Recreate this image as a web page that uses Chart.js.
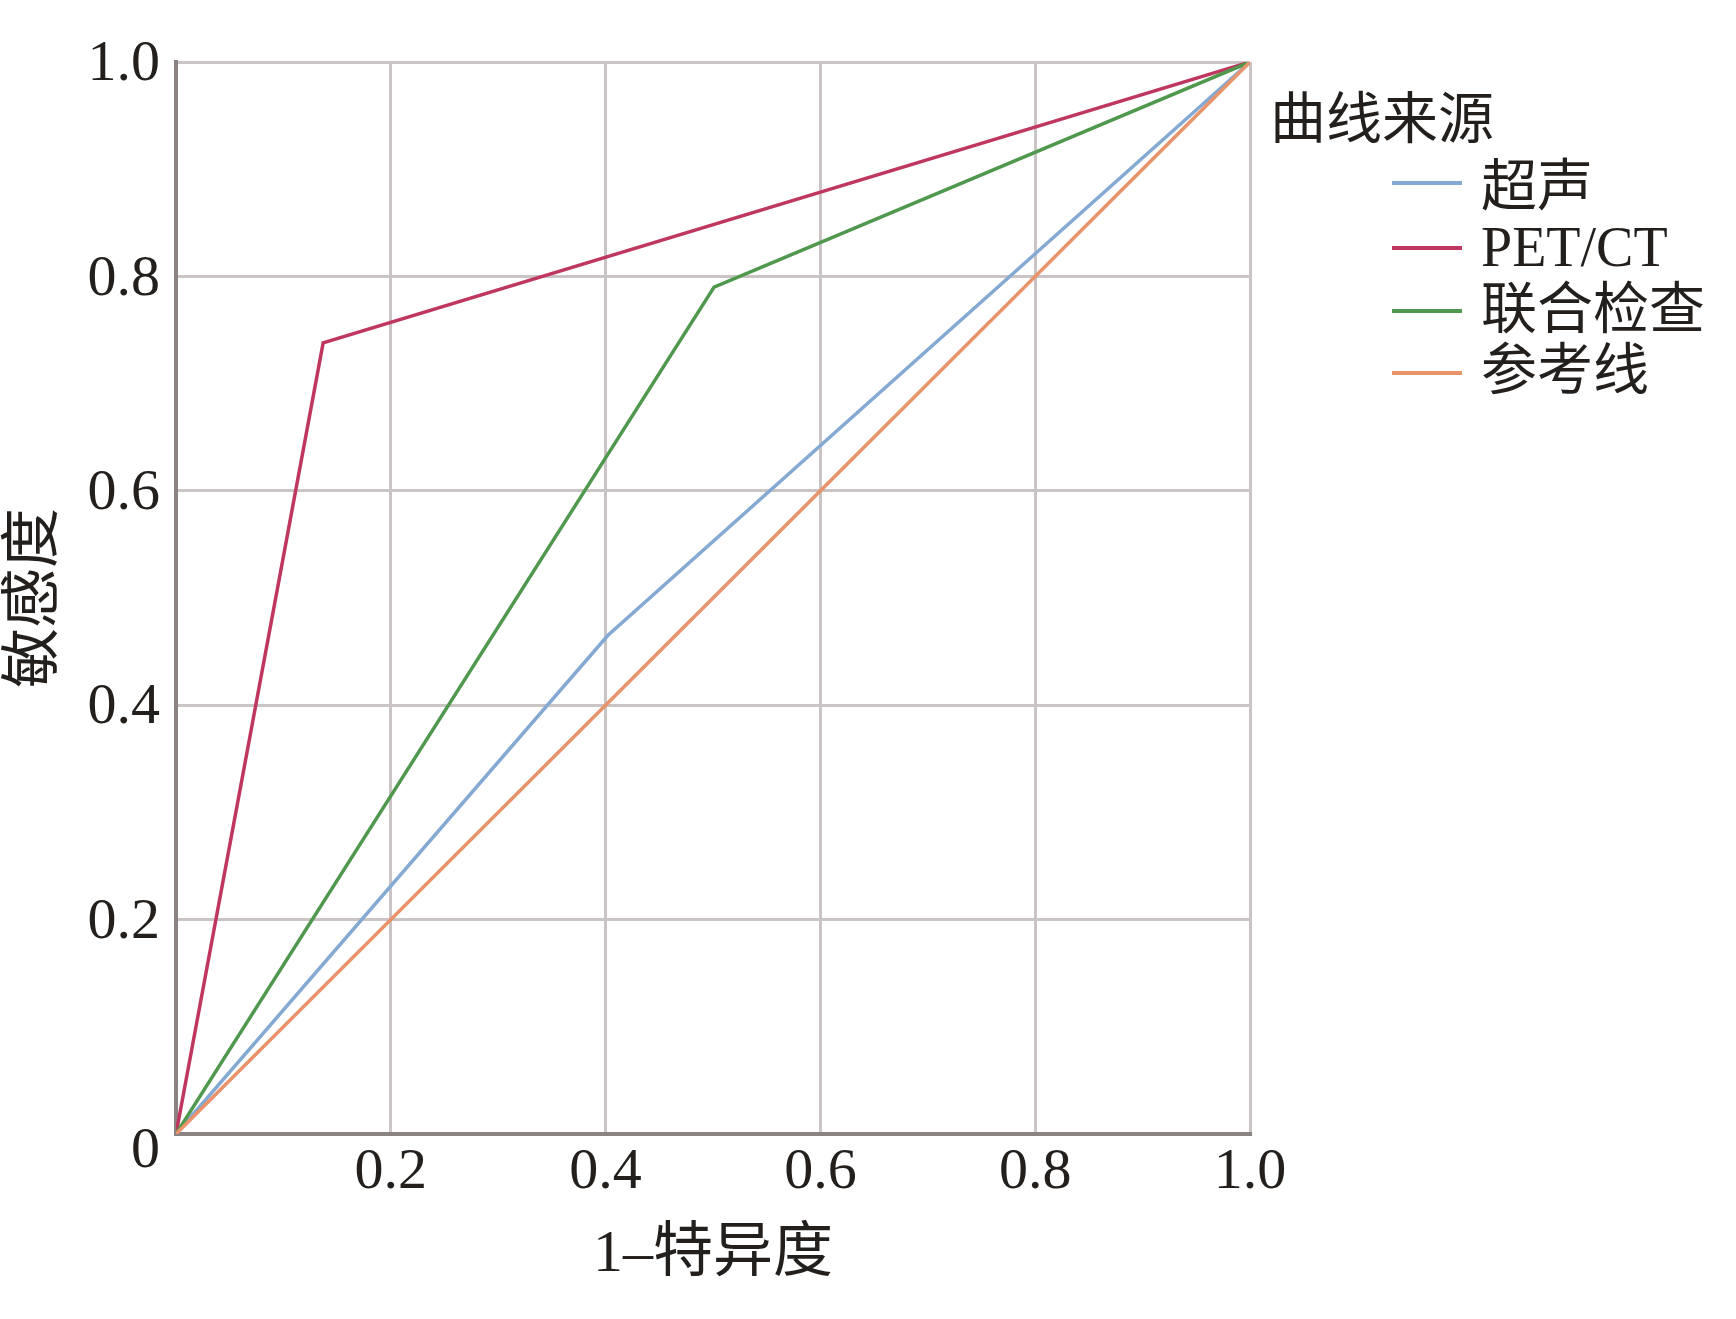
<!DOCTYPE html>
<html>
<head>
<meta charset="utf-8">
<script src="https://cdn.jsdelivr.net/npm/chart.js@4.4.1/dist/chart.umd.min.js"></script>
<style>
  html, body { margin: 0; padding: 0; background: #ffffff; }
  #wrap { position: relative; width: 1736px; height: 1319px; background: #ffffff; }
  #c { position: absolute; left: 0; top: 0; }
  .lg { position: absolute; font-family: "Liberation Serif", "Noto Sans CJK SC", serif; font-size: 56px; line-height: 56px; color: #231f1c; white-space: nowrap; }
  .lgline { position: absolute; height: 4px; width: 70px; }
</style>
</head>
<body>
<div id="wrap">
  <canvas id="c" width="1736" height="1319"></canvas>
  <div id="legend"></div>
</div>
<script>
// ---- data ----
const seriesNames = ['超声', 'PET/CT', '联合检查', '参考线'];
const seriesColors = ['#84a9d2', '#bf365f', '#4f984d', '#e8936a'];
const usX = [0, 0.402, 1];
const usY = [0, 0.465, 1];
const petX = [0, 0.137, 1];
const petY = [0, 0.738, 1];
const combX = [0, 0.501, 1];
const combY = [0, 0.790, 1];
const refX = [0, 1];
const refY = [0, 1];
const tickValues = [0, 0.2, 0.4, 0.6, 0.8, 1.0];
const xTitle = '1–特异度';
const yTitle = '敏感度';
const legendTitle = '曲线来源';

const toPts = (xs, ys) => xs.map((x, i) => ({ x: x, y: ys[i] }));
const seriesX = [usX, petX, combX, refX];
const seriesY = [usY, petY, combY, refY];
const drawOrder = [2, 3, 1, 0];

const FONT = '"Liberation Serif", "Noto Sans CJK SC", serif';
const TXT = '#231f1c';

const datasets = seriesNames.map((n, i) => ({
  label: n,
  data: toPts(seriesX[i], seriesY[i]),
  borderColor: seriesColors[i],
  backgroundColor: seriesColors[i],
  borderWidth: 3.5,
  pointRadius: 0,
  showLine: true,
  tension: 0,
  order: drawOrder[i]
}));

new Chart(document.getElementById('c'), {
  type: 'scatter',
  data: { datasets: datasets },
  options: {
    responsive: false,
    animation: false,
    events: [],
    layout: { padding: { left: 0, top: 62, right: 486, bottom: 0 } },
    plugins: { legend: { display: false }, tooltip: { enabled: false } },
    scales: {
      x: {
        type: 'linear', min: 0, max: 1,
        afterBuildTicks: (s) => { s.ticks = tickValues.map(v => ({ value: v })); },
        afterFit: (s) => { s.height = 185; },
        ticks: {
          autoSkip: false, maxRotation: 0, padding: 4, color: TXT,
          font: { family: FONT, size: 58 },
          callback: (v) => (v === 0 ? '' : Number(v).toFixed(1))
        },
        grid: { color: '#cac4c4', lineWidth: 3, drawTicks: false },
        border: { color: '#8b8282', width: 4 },
        title: { display: true, text: xTitle, color: TXT, font: { family: FONT, size: 60 }, padding: { top: 0, bottom: 28 } }
      },
      y: {
        type: 'linear', min: 0, max: 1,
        afterBuildTicks: (s) => { s.ticks = tickValues.map(v => ({ value: v })); },
        afterFit: (s) => { s.width = 176; },
        ticks: {
          autoSkip: false, padding: 16, color: TXT, labelOffset: 3,
          font: { family: FONT, size: 58, lineHeight: 0.5 },
          callback: (v) => (v === 0 ? ['', '0'] : Number(v).toFixed(1))
        },
        grid: { color: '#cac4c4', lineWidth: 3, drawTicks: false },
        border: { color: '#8b8282', width: 4 },
        title: { display: true, text: yTitle, color: TXT, font: { family: FONT, size: 60 }, padding: { top: 0, bottom: 0 } }
      }
    }
  }
});

// ---- legend (HTML text) ----
const lg = document.getElementById('legend');
const t = document.createElement('div');
t.className = 'lg';
t.style.left = '1270px';
t.style.top = (119 - 28) + 'px';
t.textContent = legendTitle;
lg.appendChild(t);
const lineYs = [183, 248, 311, 373];
const textYs = [186, 247, 309, 370];
seriesNames.forEach((n, i) => {
  const ln = document.createElement('div');
  ln.className = 'lgline';
  ln.style.left = '1392px';
  ln.style.top = (lineYs[i] - 2) + 'px';
  ln.style.background = seriesColors[i];
  lg.appendChild(ln);
  const tx = document.createElement('div');
  tx.className = 'lg';
  tx.style.left = '1481px';
  tx.style.top = (textYs[i] - 28) + 'px';
  tx.textContent = n;
  lg.appendChild(tx);
});
</script>
</body>
</html>
